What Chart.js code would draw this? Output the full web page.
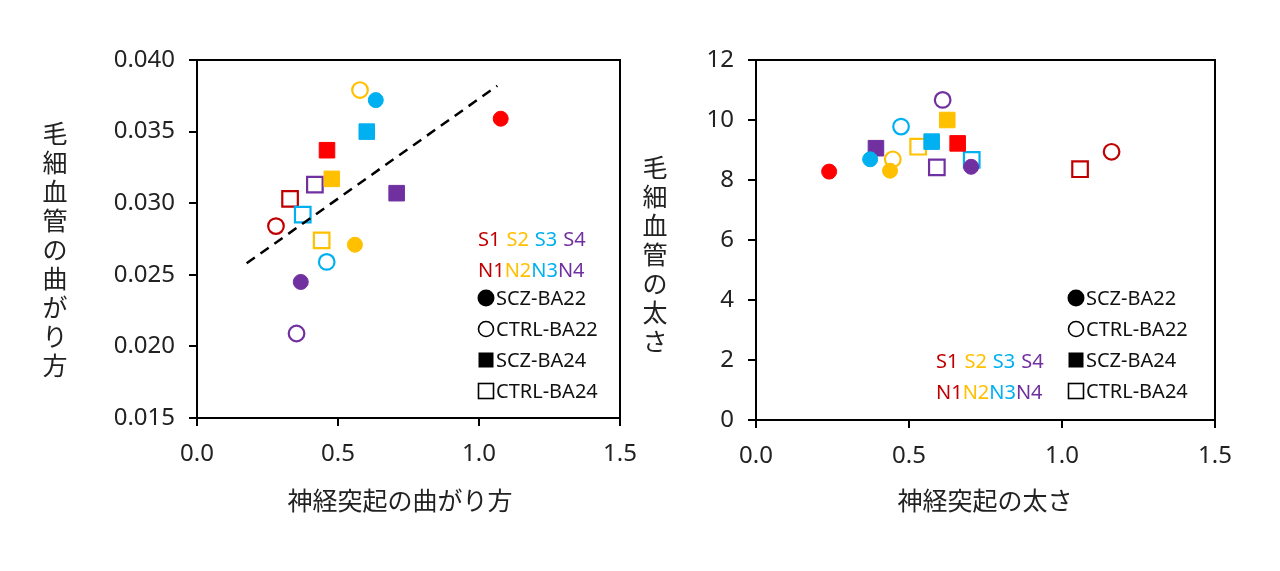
<!DOCTYPE html>
<html><head><meta charset="utf-8">
<script src="https://cdn.jsdelivr.net/npm/chart.js@4"></script>
<style>
html,body{margin:0;padding:0;background:#fff;width:1280px;height:571px;overflow:hidden}
.w{position:absolute;top:0;width:640px;height:571px}
</style></head><body>
<div class="w" style="left:0"><canvas id="c1"></canvas></div>
<div class="w" style="left:640px"><canvas id="c2"></canvas></div>
<script>
// sample colours order: 1..4
const fillColors = ['#ff0000','#ffc000','#00b0f0','#7030a0'];
const openColors = ['#c00000','#ffc000','#00b0f0','#7030a0'];
const sampleLabelsS = ['S1','S2','S3','S4'];
const sampleLabelsN = ['N1','N2','N3','N4'];
const groupLabels = ['SCZ-BA22','CTRL-BA22','SCZ-BA24','CTRL-BA24'];

// Left chart: neurite tortuosity (x) vs capillary tortuosity (y)
const L_sczBA22_x = [1.077, 0.560, 0.634, 0.368];
const L_sczBA22_y = [0.0359, 0.0271, 0.0372, 0.0245];
const L_ctrlBA22_x = [0.280, 0.578, 0.460, 0.353];
const L_ctrlBA22_y = [0.0284, 0.0379, 0.0259, 0.0209];
const L_sczBA24_x = [0.461, 0.478, 0.602, 0.708];
const L_sczBA24_y = [0.0337, 0.0317, 0.0350, 0.0307];
const L_ctrlBA24_x = [0.330, 0.442, 0.375, 0.418];
const L_ctrlBA24_y = [0.0303, 0.0274, 0.0292, 0.0313];
const L_trend_x = [0.176, 1.065];
const L_trend_y = [0.0258, 0.0382];
const L_yTicks = [0.015,0.020,0.025,0.030,0.035,0.040];

// Right chart: neurite thickness (x) vs capillary thickness (y)
const R_sczBA22_x = [0.239, 0.438, 0.373, 0.703];
const R_sczBA22_y = [8.28, 8.31, 8.69, 8.44];
const R_ctrlBA22_x = [1.162, 0.447, 0.474, 0.610];
const R_ctrlBA22_y = [8.94, 8.69, 9.78, 10.67];
const R_sczBA24_x = [0.659, 0.625, 0.574, 0.392];
const R_sczBA24_y = [9.22, 10.0, 9.28, 9.06];
const R_ctrlBA24_x = [1.059, 0.530, 0.705, 0.591];
const R_ctrlBA24_y = [8.36, 9.11, 8.67, 8.42];

const FONT = '"Noto Sans", sans-serif';
const pts = (xs, ys) => xs.map((x,i)=>({x, y:ys[i]}));

function groupDatasets(sets){
  const [a,b,c,d] = sets;
  return [
    {label:groupLabels[0], data:pts(a[0],a[1]), pointStyle:'circle', pointRadius:7.5, pointBackgroundColor:fillColors, pointBorderColor:fillColors, pointBorderWidth:1},
    {label:groupLabels[1], data:pts(b[0],b[1]), pointStyle:'circle', pointRadius:7.8, pointBackgroundColor:'#fff', pointBorderColor:openColors, pointBorderWidth:2.2},
    {label:groupLabels[2], data:pts(c[0],c[1]), pointStyle:'rect', pointRadius:11, pointBackgroundColor:fillColors, pointBorderColor:fillColors, pointBorderWidth:1},
    {label:groupLabels[3], data:pts(d[0],d[1]), pointStyle:'rect', pointRadius:11, pointBackgroundColor:'#fff', pointBorderColor:openColors, pointBorderWidth:2.2},
  ];
}

function overlay(cfg){
  return {
    id:'overlay',
    afterDraw(chart){
      const ctx = chart.ctx, a = chart.chartArea;
      ctx.save();
      ctx.strokeStyle='#000'; ctx.lineWidth=2;
      ctx.strokeRect(a.left, a.top, a.right-a.left, a.bottom-a.top);
      ctx.fillStyle='#222'; ctx.font='25px "Noto Sans CJK JP", sans-serif';
      ctx.textAlign='center'; ctx.textBaseline='middle';
      [...cfg.yTitle].forEach((ch,i)=>ctx.fillText(ch, cfg.yTitleX, cfg.yTitleY + i*cfg.yTitleStep));
      ctx.fillText(cfg.xTitle, cfg.xTitleX, 500);
      ctx.font='20px '+FONT; ctx.textAlign='left';
      let x = cfg.sx;
      sampleLabelsS.forEach((t,i)=>{ctx.fillStyle=openColors[i]; ctx.fillText(t,x,cfg.sy); x+=ctx.measureText(t).width+6;});
      x = cfg.sx;
      sampleLabelsN.forEach((t,i)=>{ctx.fillStyle=openColors[i]; ctx.fillText(t,x,cfg.sy+31); x+=ctx.measureText(t).width;});
      groupLabels.forEach((t,i)=>{
        const y = cfg.gy + i*31, mx = cfg.gx;
        ctx.fillStyle='#000'; ctx.strokeStyle='#000'; ctx.lineWidth=1.6;
        if(i===0){ctx.beginPath();ctx.arc(mx,y,8.5,0,Math.PI*2);ctx.fill();}
        if(i===1){ctx.beginPath();ctx.arc(mx,y,7.5,0,Math.PI*2);ctx.stroke();}
        if(i===2){ctx.fillRect(mx-7.5,y-7.5,15,15);}
        if(i===3){ctx.strokeRect(mx-7.5,y-7.5,15,15);}
        ctx.fillStyle='#111'; ctx.fillText(t, mx+10, y+1);
      });
      ctx.restore();
    }
  };
}

function makeChart(id, datasets, xOpt, yOpt, yWidth, padRight, xH, ov){
  return new Chart(document.getElementById(id), {
    type:'scatter',
    data:{datasets},
    options:{
      responsive:true, maintainAspectRatio:false, animation:false,
      layout:{padding:{left:0,right:padRight,top:60,bottom:0}},
      plugins:{legend:{display:false}, tooltip:{enabled:false}},
      scales:{
        x:Object.assign({type:'linear', min:0, max:1.5,
          border:{color:'#000',width:2},
          grid:{drawOnChartArea:false, color:'#000', lineWidth:2, tickLength:8},
          ticks:{stepSize:0.5, color:'#222', font:{family:FONT,size:24}, padding:14, maxRotation:0,
                 callback:v=>v.toFixed(1)},
          afterFit:s=>{s.height=xH; s.paddingRight=0; s.paddingLeft=0;}}, xOpt),
        y:Object.assign({type:'linear',
          border:{color:'#000',width:2},
          grid:{drawOnChartArea:false, color:'#000', lineWidth:2, tickLength:8},
          afterFit:s=>{s.width=yWidth; s.paddingTop=0; s.paddingBottom=0;}}, yOpt)
      }
    },
    plugins:[overlay(ov)]
  });
}

const leftSets = groupDatasets([[L_sczBA22_x,L_sczBA22_y],[L_ctrlBA22_x,L_ctrlBA22_y],[L_sczBA24_x,L_sczBA24_y],[L_ctrlBA24_x,L_ctrlBA24_y]]);
leftSets.unshift({type:'line', data:pts(L_trend_x,L_trend_y), borderColor:'#000', borderWidth:2.5, borderDash:[10,7], pointRadius:0, fill:false});
makeChart('c1', leftSets, {},
  {min:0.015, max:0.040, afterBuildTicks:s=>{s.ticks=L_yTicks.map(v=>({value:v}));}, ticks:{color:'#222', font:{family:FONT,size:24}, padding:14, callback:v=>Number(v).toFixed(3)}},
  197, 20, 153,
  {yTitle:'毛細血管の曲がり方', yTitleX:55, yTitleY:133, yTitleStep:29, xTitle:'神経突起の曲がり方', xTitleX:400, sx:478, sy:240, gx:486, gy:298});

const rightSets = groupDatasets([[R_sczBA22_x,R_sczBA22_y],[R_ctrlBA22_x,R_ctrlBA22_y],[R_sczBA24_x,R_sczBA24_y],[R_ctrlBA24_x,R_ctrlBA24_y]]);
makeChart('c2', rightSets, {},
  {min:0, max:12, ticks:{stepSize:2, color:'#222', font:{family:FONT,size:24}, padding:14}},
  116, 65, 151,
  {yTitle:'毛細血管の太さ', yTitleX:15, yTitleY:167, yTitleStep:29, xTitle:'神経突起の太さ', xTitleX:345, sx:296, sy:362, gx:436, gy:298});
</script>
</body></html>
